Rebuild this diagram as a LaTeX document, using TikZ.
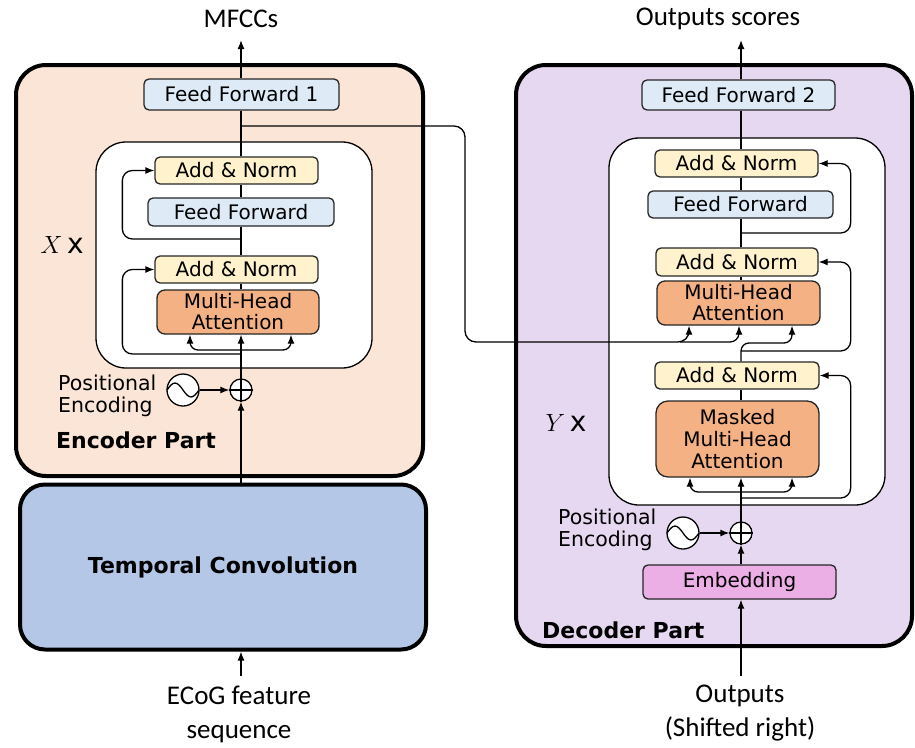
\documentclass[tikz,border=0pt]{standalone}
\usepackage{fontspec}
\setmainfont{Carlito}
\newfontfamily\nsans{DejaVu Sans}
\usetikzlibrary{arrows.meta}
\definecolor{encfill}{HTML}{FBE5D6}
\definecolor{decfill}{HTML}{E6D8F0}
\definecolor{tcfill}{HTML}{B4C7E7}
\definecolor{fffill}{HTML}{DEEBF7}
\definecolor{anfill}{HTML}{FFF2CC}
\definecolor{mhafill}{HTML}{F4B183}
\definecolor{embfill}{HTML}{EBAFE5}
\begin{document}
\begin{tikzpicture}[x=1pt,y=-1pt,
  outerbox/.style={draw=black, line width=4pt, rounded corners=30pt, inner sep=0pt},
  innerbox/.style={draw=black, line width=1.3pt, fill=white, rounded corners=30pt, inner sep=0pt},
  blk/.style={draw=black!85, line width=1.3pt, rounded corners=5pt, inner sep=0pt, font=\nsans\fontsize{20}{21}\selectfont, align=center},
  arr/.style={-{Latex[length=9pt,width=7pt]}, line width=1.3pt},
  ln/.style={line width=1.3pt},
  lbl/.style={font=\fontsize{27}{34}\selectfont, align=center, inner sep=0pt},
  pe/.style={font=\nsans\fontsize{20.5}{22}\selectfont, align=left, inner sep=0pt, anchor=west},
  part/.style={font=\nsans\bfseries\fontsize{22}{26}\selectfont, inner sep=0pt, anchor=west},
  sinec/.style={circle, draw, line width=1.3pt, fill=white, minimum size=32pt, inner sep=0pt},
  plusc/.style={circle, draw, line width=1.3pt, fill=white, minimum size=22pt, inner sep=0pt},
]
\useasboundingbox (0,0) rectangle (915,747);

% outer boxes
\node[outerbox, fill=encfill, minimum width=407pt, minimum height=411pt] (enc) at (219.5,270.5) {};
\node[outerbox, fill=tcfill, rounded corners=25pt, minimum width=406pt, minimum height=165pt,
      font=\nsans\bfseries\fontsize{22}{28}\selectfont] (tconv) at (223,567) {Temporal Convolution};
\node[outerbox, fill=decfill, minimum width=396pt, minimum height=581pt] (dec) at (714,355.5) {};

% inner boxes
\node[innerbox, minimum width=276pt, minimum height=226pt] (einner) at (234,255) {};
\node[innerbox, minimum width=276pt, minimum height=367pt] (dinner) at (747,321.5) {};

% encoder blocks
\node[blk, fill=fffill, minimum width=195pt, minimum height=31pt] (ff1) at (241.5,94.5) {Feed Forward 1};
\node[blk, fill=anfill, minimum width=163pt, minimum height=27pt] (ean1) at (236.5,170.5) {Add \& Norm};
\node[blk, fill=fffill, minimum width=186pt, minimum height=28pt] (effn) at (241,212) {Feed Forward};
\node[blk, fill=anfill, minimum width=163pt, minimum height=27pt] (ean2) at (236.5,269.5) {Add \& Norm};
\node[blk, fill=mhafill, minimum width=162pt, minimum height=44pt, rounded corners=8pt] (emha) at (238,312) {Multi-Head\\Attention};

% decoder blocks
\node[blk, fill=fffill, minimum width=193pt, minimum height=30pt] (ff2) at (738.5,95) {Feed Forward 2};
\node[blk, fill=anfill, minimum width=163pt, minimum height=27pt] (dan1) at (736.5,163.5) {Add \& Norm};
\node[blk, fill=fffill, minimum width=185pt, minimum height=27pt] (dffe) at (740.5,204.5) {Feed Forward};
\node[blk, fill=anfill, minimum width=162pt, minimum height=28pt] (dan2) at (737,262) {Add \& Norm};
\node[blk, fill=mhafill, minimum width=163pt, minimum height=44pt, rounded corners=8pt] (dmha) at (738.5,303) {Multi-Head\\Attention};
\node[blk, fill=anfill, minimum width=164pt, minimum height=27pt] (dan3) at (737,375.5) {Add \& Norm};
\node[blk, fill=mhafill, minimum width=163pt, minimum height=76pt, rounded corners=12pt, font=\nsans\fontsize{20}{22}\selectfont] (dmmha) at (737.5,439) {Masked\\Multi-Head\\Attention};
\node[blk, fill=embfill, minimum width=193pt, minimum height=34pt] (emb) at (739.5,582) {Embedding};

% positional encodings
\node[sinec] (esine) at (183,390) {};
\node[plusc] (eplus) at (241,390) {};
\node[pe] (epe) at (58,396) {Positional\\Encoding};
\node[sinec] (dsine) at (683,533) {};
\node[plusc] (dplus) at (741,533) {};
\node[pe] (dpe) at (558,530) {Positional\\Encoding};

% labels
\node[part] (epart) at (56,440) {Encoder Part};
\node[part] (dpart) at (542,630) {Decoder Part};
\node (xlab) at (62,245) {\fontsize{28}{30}\selectfont$X$\,{\nsans x}};
\node (ylab) at (566,423) {\fontsize{28}{30}\selectfont$Y$\,{\nsans x}};
\node[lbl] (mfcc) at (241,19) {MFCCs};
\node[lbl] (oscore) at (718,19) {Outputs scores};
\node[lbl] (ecog) at (239,714) {ECoG feature\\sequence};
\node[lbl] (outs) at (740,713) {Outputs\\(Shifted right)};

\coordinate (mfcctip) at (241,40);
\coordinate (osctip) at (741,40);
\coordinate (ecogin) at (241,676);
\coordinate (outin) at (741,676);

% sine and plus glyphs
\foreach \s in {esine,dsine}{
  \draw[ln] ([xshift=-16pt]\s.center) sin ++(8,-7) cos ++(8,7) sin ++(8,7) cos ++(8,-7);
}
\foreach \p in {eplus,dplus}{
  \draw[ln] (\p.north) -- (\p.south);
  \draw[ln] (\p.west) -- (\p.east);
}

% ---- encoder connectors
\draw[arr] (ecogin) -- (ecogin |- tconv.south);
\draw[arr] (tconv.north -| eplus) -- (eplus.south);
\draw[arr] (esine) -- (eplus.west);
\draw[arr] (eplus.north) -- (eplus |- emha.south);
\coordinate (ebr) at (241,350);
\draw[arr, rounded corners=8pt] (ebr) -| ([xshift=-48pt]emha.south);
\draw[arr, rounded corners=8pt] (ebr) -| ([xshift=53pt]emha.south);
\coordinate (eres1) at (241,354);
\draw[arr, rounded corners=10pt] (eres1) -| ([xshift=-32pt]ean2.west) -- (ean2.west);
\draw[ln] (eplus |- emha.north) -- (eplus |- ean2.south);
\draw[ln] (eplus |- ean2.north) -- (eplus |- effn.south);
\coordinate (eres2) at (241,239);
\draw[arr, rounded corners=10pt] (eres2) -| ([xshift=-32pt]ean1.west) -- (ean1.west);
\draw[ln] (eplus |- effn.north) -- (eplus |- ean1.south);
\draw[ln] (eplus |- ean1.north) -- (eplus |- ff1.south);
\draw[arr] (eplus |- ff1.north) -- (mfcctip);

% ---- cross connection encoder -> decoder
\coordinate (xstart) at (241,126);
\draw[arr, rounded corners=11pt] (xstart) -| (465,342) -| ([xshift=-49.5pt]dmha.south);
\coordinate (xmid) at (680,342);
\draw[arr, rounded corners=9pt] (xmid) -| ([xshift=0.5pt]dmha.south);

% ---- decoder connectors
\draw[arr] (outin) -- (outin |- emb.south);
\draw[arr] (emb.north -| dplus) -- (dplus.south);
\draw[arr] (dsine) -- (dplus.west);
\draw[arr] (dplus.north) -- (dplus |- dmmha.south);
\coordinate (dbr) at (741,492);
\draw[arr, rounded corners=8pt] (dbr) -| ([xshift=-47.5pt]dmmha.south);
\draw[arr, rounded corners=8pt] (dbr) -| ([xshift=54.5pt]dmmha.south);
\coordinate (dres3) at (741,498);
\draw[arr, rounded corners=10pt] (dres3) -| ([xshift=31pt]dan3.east) -- (dan3.east);
\draw[ln] (dplus |- dmmha.north) -- (dplus |- dan3.south);
\draw[arr, rounded corners=8pt] (dplus |- dan3.north) |- (792,343) -- ([xshift=53.5pt]dmha.south);
\coordinate (dres2) at (741,351);
\draw[arr, rounded corners=10pt] (dres2) -| ([xshift=32pt]dan2.east) -- (dan2.east);
\draw[ln] (dplus |- dmha.north) -- (dplus |- dan2.south);
\draw[ln] (dplus |- dan2.north) -- (dplus |- dffe.south);
\coordinate (dres1) at (741,233);
\draw[arr, rounded corners=10pt] (dres1) -| ([xshift=32pt]dan1.east) -- (dan1.east);
\draw[ln] (dplus |- dffe.north) -- (dplus |- dan1.south);
\draw[ln] (dplus |- dan1.north) -- (dplus |- ff2.south);
\draw[arr] (dplus |- ff2.north) -- (osctip);
\end{tikzpicture}
\end{document}
